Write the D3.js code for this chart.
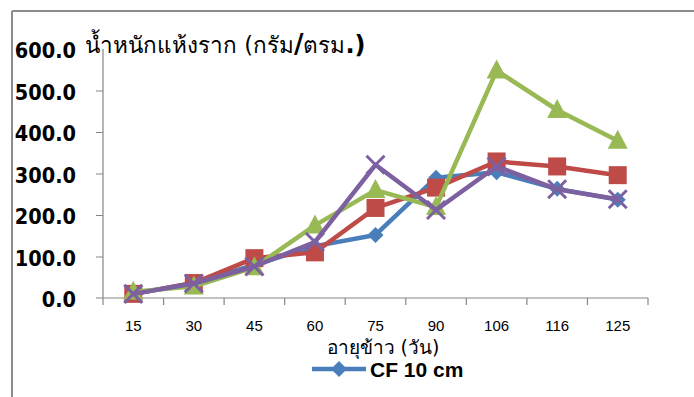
<!DOCTYPE html>
<html><head><meta charset="utf-8">
<script src="https://cdn.jsdelivr.net/npm/d3@7"></script>
<style>html,body{margin:0;padding:0;background:#fff;}svg{display:block;}</style>
</head><body>
<svg id="c" width="694" height="397"></svg>
<script>
const categories = ["15","30","45","60","75","90","106","116","125"];
const cf10 = [10, 36, 80, 125, 152, 290, 303, 263, 237];
const series2 = [10, 36, 96, 110, 217, 266, 329, 317, 296];
const series3 = [15, 28, 74, 175, 260, 219, 548, 453, 379];
const series4 = [10, 35, 76, 135, 321, 212, 317, 262, 238];
const yTicks = [0, 100, 200, 300, 400, 500, 600];
const seriesNames = ["CF 10 cm", "S2", "S3", "S4"];
const colors = ["#4a7ebb", "#be4b48", "#98b954", "#7d60a0"];
const shapes = ["diamond", "square", "triangle", "cross"];

const svg = d3.select("#c");
// outer frame
svg.append("line").attr("x1",12).attr("x2",694).attr("y1",11).attr("y2",11).attr("stroke","#8c8c8c").attr("stroke-width",2);
svg.append("line").attr("x1",12).attr("x2",12).attr("y1",11).attr("y2",397).attr("stroke","#8c8c8c").attr("stroke-width",2);

const x = d3.scaleBand().domain(categories).range([103, 648]);
const y = d3.scaleLinear().domain([0, 600]).range([298, 49]);

// y axis
const yAxis = d3.axisLeft(y).tickValues(yTicks).tickSize(7).tickFormat(d3.format(".1f"));
const gy = svg.append("g").attr("transform","translate(103,0)").call(yAxis);
gy.select(".domain").attr("stroke","#868686").attr("stroke-width",1.2).attr("d","M0,49V298");
gy.selectAll(".tick line").attr("stroke","#868686");
gy.selectAll(".tick text").attr("x",-27).attr("dy","0.4em").attr("font-family","'DejaVu Sans Condensed', 'DejaVu Sans'").attr("font-weight","bold").attr("font-size",21.5).attr("fill","#000");
gy.selectAll(".tick").filter(d=>d===0||d===600).select("line").remove();

// x axis
const xAxis = d3.axisBottom(x).tickSize(0).tickPadding(22);
const gx = svg.append("g").attr("transform","translate(0,298)").call(xAxis);
gx.select(".domain").attr("stroke","#868686").attr("stroke-width",1.2).attr("d","M96,0H648");
gx.selectAll(".tick text").attr("font-family","Liberation Sans").attr("font-size",15).attr("fill","#000");
// boundary ticks
const bounds = categories.map(c=>x(c)).concat([x.range()[1]]);
gx.selectAll(".btick").data(bounds).enter().append("line").attr("class","btick")
  .attr("x1",d=>d).attr("x2",d=>d).attr("y1",0).attr("y2",7).attr("stroke","#868686").attr("stroke-width",1.2);

const cx = c => x(c) + x.bandwidth()/2;

const allSeries = [cf10, series2, series3, series4];
const line = d3.line().x((d,i)=>cx(categories[i])).y(d=>y(d));

function marker(g, shape, color, px, py){
  if(shape==="diamond"){
    g.append("path").attr("d",`M${px},${py-8}L${px+8},${py}L${px},${py+8}L${px-8},${py}Z`).attr("fill",color);
  } else if(shape==="square"){
    g.append("rect").attr("x",px-9).attr("y",py-9).attr("width",18).attr("height",18).attr("fill",color);
  } else if(shape==="triangle"){
    g.append("path").attr("d",`M${px},${py-11}L${px+10},${py+8}L${px-10},${py+8}Z`).attr("fill",color);
  } else {
    g.append("path").attr("d",`M${px-9},${py-9}L${px+9},${py+9}M${px+9},${py-9}L${px-9},${py+9}`).attr("stroke",color).attr("stroke-width",3);
  }
}

allSeries.forEach((vals, si)=>{
  const g = svg.append("g");
  g.append("path").datum(vals).attr("d",line).attr("fill","none").attr("stroke",colors[si]).attr("stroke-width",4.5).attr("stroke-linejoin","round");
  vals.forEach((v,i)=>marker(g, shapes[si], colors[si], cx(categories[i]), y(v)));
});

// title
const t = svg.append("text").attr("x",85).attr("y",53).attr("font-size",22.5).attr("fill","#000").attr("font-family","Tahoma, 'DejaVu Sans', sans-serif");
t.append("tspan").text("น้ำหนักแห้งราก (กรัม");
t.append("tspan").attr("font-weight","bold").attr("font-size",26).text("/");
t.append("tspan").text("ตรม");
t.append("tspan").attr("font-weight","bold").attr("font-size",24).text(".)");

// x axis title
svg.append("text").attr("x",383).attr("y",354).attr("text-anchor","middle").attr("font-size",19).attr("fill","#000")
  .attr("font-family","Tahoma, 'DejaVu Sans', sans-serif").text("อายุข้าว (วัน)");

// legend
const lg = svg.append("g");
lg.append("line").attr("x1",312).attr("x2",366).attr("y1",369).attr("y2",369).attr("stroke",colors[0]).attr("stroke-width",4.5);
marker(lg, shapes[0], colors[0], 339, 369);
lg.append("text").attr("x",370).attr("y",377).attr("font-family","Liberation Sans").attr("font-weight","bold").attr("font-size",21).attr("fill","#000").text(seriesNames[0]);
</script>
</body></html>
